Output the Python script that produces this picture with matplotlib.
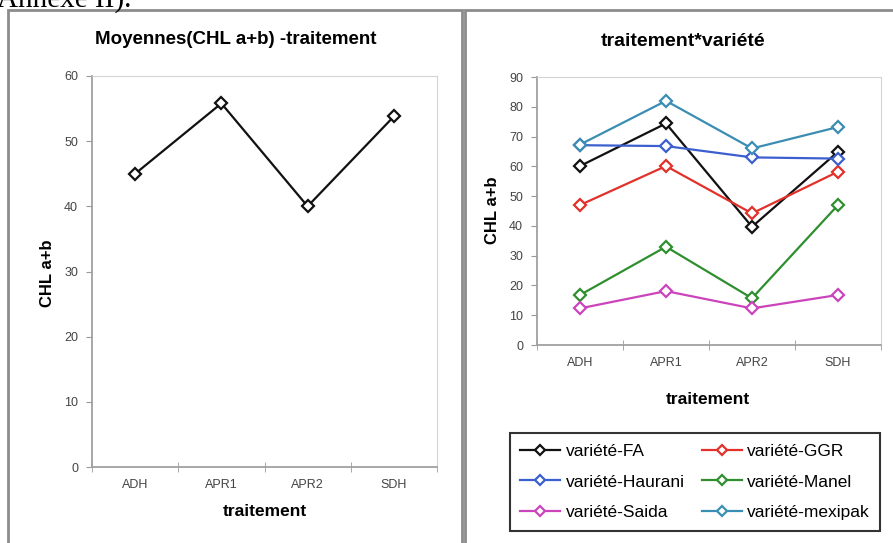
import matplotlib
matplotlib.use('Agg')
import matplotlib.pyplot as plt
from matplotlib.patches import Rectangle

plt.rcParams['font.family'] = ['Liberation Sans', 'DejaVu Sans']

traitements = ['ADH', 'APR1', 'APR2', 'SDH']
moyennes = [45.0, 55.8, 40.0, 53.8]

varietes = ['variété-FA', 'variété-GGR', 'variété-Haurani',
            'variété-Manel', 'variété-Saida', 'variété-mexipak']
fa = [60.1, 74.4, 39.7, 64.9]
ggr = [47.0, 60.1, 44.2, 58.2]
haurani = [67.1, 66.8, 63.0, 62.6]
manel = [16.8, 33.0, 15.7, 47.0]
saida = [12.3, 18.1, 12.3, 16.8]
mexipak = [67.3, 82.0, 66.0, 73.2]
series = [fa, ggr, haurani, manel, saida, mexipak]
couleurs = ['#111111', '#e2312b', '#3c5fcf', '#2f8f2f', '#cc44bb', '#3a8db3']

fig = plt.figure(figsize=(8.93, 5.43), dpi=100)
W, H = 893.0, 543.0


def px(x0, y0, x1, y1):
    # pixel box -> figure fraction rect
    return [x0 / W, 1 - y1 / H, (x1 - x0) / W, (y1 - y0) / H]


# panel borders
for (x0, y0, x1, y1) in [(8, 10, 462, 560), (465, 10, 900, 560)]:
    fig.patches.append(Rectangle((x0 / W, 1 - y1 / H), (x1 - x0) / W, (y1 - y0) / H,
                                 transform=fig.transFigure, fill=False,
                                 edgecolor='#8c8c8c', linewidth=2.0))

# clipped heading from the document above
fig.text(131 / W, 1 - 7 / H, 'Annexe II).', family='Liberation Serif',
         fontsize=21, ha='right', va='baseline', color='black')


def style_axes(ax, ymax, step):
    ax.set_xlim(-0.5, 3.5)
    ax.set_ylim(0, ymax)
    ax.set_yticks(range(0, ymax + 1, step))
    ax.set_xticks(range(4))
    ax.set_xticklabels(traitements)
    ax.set_xticks([-0.5, 0.5, 1.5, 2.5, 3.5], minor=True)
    ax.tick_params(axis='x', which='major', length=0, pad=9, labelsize=9, labelcolor='#444444')
    ax.tick_params(axis='x', which='minor', length=7, direction='inout', color='#999999')
    ax.tick_params(axis='y', length=4, direction='out', color='#999999',
                   labelsize=9, labelcolor='#444444', pad=6)
    for s in ['top', 'right']:
        ax.spines[s].set_color('#d4d4d4')
    for s in ['left', 'bottom']:
        ax.spines[s].set_color('#a0a0a0')
        ax.spines[s].set_linewidth(1.3)


ax1 = fig.add_axes(px(92, 76, 437, 467))
ax1.plot(range(4), moyennes, color='#111111', lw=1.6, marker='D', ms=6,
         mfc='white', mec='#111111', mew=1.6)
style_axes(ax1, 60, 10)
fig.text(47 / W, 1 - 273 / H, 'CHL a+b', fontsize=12, fontweight='bold',
         rotation=90, ha='center', va='center')
fig.text(265 / W, 1 - 512 / H, 'traitement', fontsize=12.5, fontweight='bold',
         ha='center', va='center')
fig.text(236 / W, 1 - 40 / H, 'Moyennes(CHL a+b) -traitement', fontsize=13.5,
         fontweight='bold', ha='center', va='center')

ax2 = fig.add_axes(px(537, 77, 881, 345))
handles = []
for nom, vals, c in zip(varietes, series, couleurs):
    h, = ax2.plot(range(4), vals, color=c, lw=1.6, marker='D', ms=6,
                  mfc='white', mec=c, mew=1.6, label=nom)
    handles.append(h)
style_axes(ax2, 90, 10)
fig.text(492 / W, 1 - 210 / H, 'CHL a+b', fontsize=12, fontweight='bold',
         rotation=90, ha='center', va='center')
fig.text(708 / W, 1 - 399 / H, 'traitement', fontsize=12.5, fontweight='bold',
         ha='center', va='center')
fig.text(683 / W, 1 - 42 / H, 'traitement*variété', fontsize=14,
         fontweight='bold', ha='center', va='center')

# row-major order in a 2-column legend
ordre = [0, 2, 4, 1, 3, 5]
leg = fig.legend([handles[i] for i in ordre], [varietes[i] for i in ordre],
                 ncol=2, loc='center', bbox_to_anchor=(695 / W, 1 - 482 / H),
                 fontsize=12.5, frameon=True, fancybox=False, edgecolor='black',
                 handlelength=2.3, columnspacing=1.0, labelspacing=0.9,
                 handletextpad=0.3, borderpad=0.6, markerscale=0.8)
leg.get_frame().set_linewidth(1.5)

fig.savefig('out.png', dpi=100)
